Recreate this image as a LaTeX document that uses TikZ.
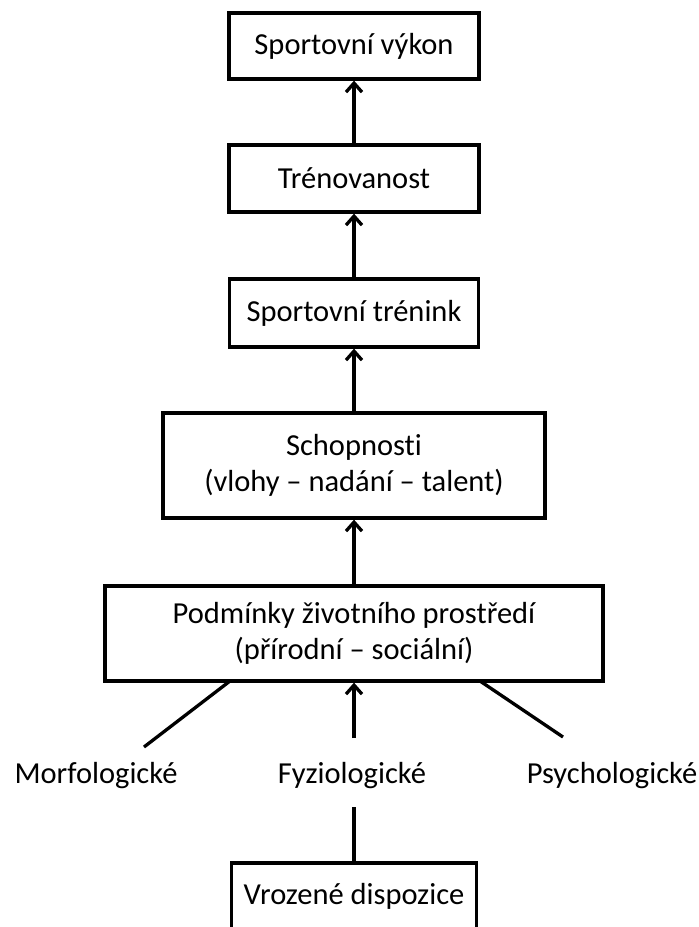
\documentclass[tikz,border=0pt]{standalone}
\usepackage{fontspec}
\setmainfont[Ligatures=NoCommon]{Carlito}
\usetikzlibrary{arrows.meta}
\begin{document}
\begin{tikzpicture}[x=1pt,y=-1pt,
  box/.style={draw, line width=3.3pt, rectangle, inner sep=0pt, align=center,
    font=\fontsize{30.5}{36}\selectfont},
  lbl/.style={inner sep=0pt, anchor=base, font=\fontsize{30.5}{36}\selectfont},
  up/.style={line width=3.3pt, -{Straight Barb[length=9pt,width=16pt]}},
  link/.style={line width=3.3pt}]
  \useasboundingbox (0,0) rectangle (699,927);
  \clip (0,0) rectangle (699,927);

  % chain of boxes, top to bottom
  \node[box, minimum width=250pt, minimum height=66pt] (vykon) at (354,46) {Sportovní výkon};
  \node[box, minimum width=250pt, minimum height=67pt] (trenovanost) at (354,178.5) {Trénovanost};
  \node[box, minimum width=249pt, minimum height=68pt] (trenink) at (354,313) {Sportovní trénink};
  \node[box, minimum width=382pt, minimum height=105pt] (schopnosti) at (354,465.5)
    {Schopnosti\\(vlohy – nadání – talent)};
  \node[box, minimum width=498pt, minimum height=95pt] (podminky) at (354,633.5)
    {Podmínky životního prostředí\\(přírodní – sociální)};
  \node[box, minimum width=245pt, minimum height=66pt] (vrozene) at (354,896) {Vrozené dispozice};

  % the three groups of innate factors
  \node[lbl] (morf) at (96,783) {Morfologické};
  \node[lbl] (fyz) at (352,783) {Fyziologické};
  \node[lbl] (psych) at (612,783) {Psychologické};

  % free ends of the connectors
  \coordinate (mend) at (144,747);
  \coordinate (pend) at (563,737);
  \coordinate (fend) at (354,738);
  \coordinate (vend) at (354,807);

  % upward arrows between boxes
  \draw[up] (trenovanost.north) -- (vykon.south);
  \draw[up] (trenink.north) -- (trenovanost.south);
  \draw[up] (schopnosti.north) -- (trenink.south);
  \draw[up] (podminky.north) -- (schopnosti.south);
  \draw[up] (fend) -- (fend |- podminky.south);

  % plain links
  \draw[link] (mend) -- (230,681);
  \draw[link] (pend) -- (480,681);
  \draw[link] (vrozene.north) -- (vend);
\end{tikzpicture}
\end{document}
